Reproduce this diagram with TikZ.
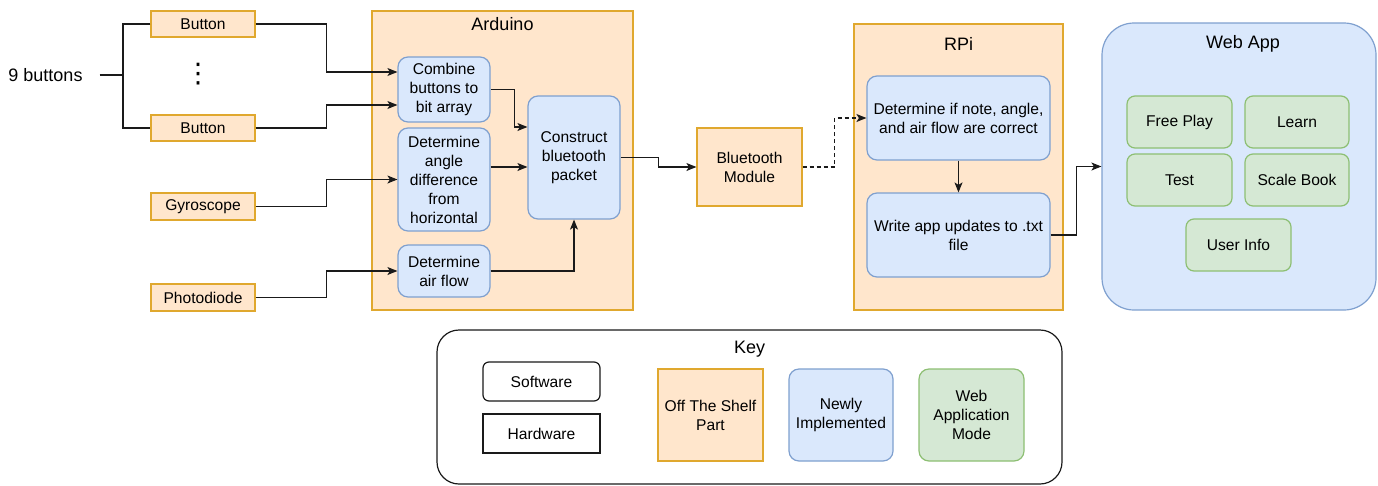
\documentclass[tikz,border=0pt]{standalone}
\usepackage{fontspec}
\setmainfont{Liberation Sans}
\newfontfamily\dejavu{DejaVu Sans}
\usetikzlibrary{arrows.meta,calc}
\definecolor{ofill}{HTML}{FFE6CC}
\definecolor{odraw}{HTML}{E0A82E}
\definecolor{bfill}{HTML}{DAE8FC}
\definecolor{bdraw}{HTML}{7FA0CF}
\definecolor{gfill}{HTML}{D5E8D4}
\definecolor{gdraw}{HTML}{8DBF73}
\definecolor{lcol}{HTML}{1A1A1A}
\tikzset{
  base/.style={font=\fontsize{15.6}{19}\selectfont, align=center, inner sep=0pt, line width=1.2pt},
  obox/.style={base, rectangle, fill=ofill, draw=odraw},
  bbox/.style={base, rectangle, rounded corners=10pt, fill=bfill, draw=bdraw},
  gbox/.style={base, rectangle, rounded corners=8pt, fill=gfill, draw=gdraw},
  wbox/.style={base, rectangle, rounded corners=6pt, fill=white, draw=lcol},
  title/.style={font=\fontsize{18}{21}\selectfont, inner sep=0pt},
  conn/.style={line width=1.2pt, draw=lcol},
  arr/.style={conn, -{Stealth[length=10pt,width=8pt,inset=2.5pt]}},
}
\begin{document}
\begin{tikzpicture}[x=1pt,y=-1pt]
\useasboundingbox (0,0) rectangle (1378,485);
% containers
\node[obox, minimum width=261, minimum height=299] (ard) at (502.5,160.5) {};
\node[title] (ardt) at (502.5,24) {Arduino};
\node[obox, minimum width=209, minimum height=286] (rpi) at (958.5,167) {};
\node[title] (rpit) at (958.5,44) {RPi};
\node[base, rectangle, rounded corners=32pt, fill=bfill, draw=bdraw, minimum width=274, minimum height=287] (web) at (1239,166.5) {};
\node[title] (webt) at (1243,44) {Web App};
% left inputs
\node[title, inner xsep=17pt] (nine) at (45.5,75) {9 buttons};
\node[obox, minimum width=104, minimum height=26] (b1) at (203,24) {Button};
\node[obox, minimum width=104, minimum height=26] (b2) at (203,128) {Button};
\node[font=\dejavu\fontsize{27}{30}\selectfont, inner sep=0pt] (dots) at (198,74) {⋮};
\node[obox, minimum width=104, minimum height=27] (gyro) at (203,206.5) {Gyroscope};
\node[obox, minimum width=104, minimum height=27] (photo) at (203,297.5) {Photodiode};
% arduino internals
\node[bbox, minimum width=92, minimum height=65] (comb) at (444,89.5) {Combine\\buttons to\\bit array};
\node[bbox, minimum width=92, minimum height=103] (ang) at (444,179.5) {Determine\\angle\\difference\\from\\horizontal};
\node[bbox, minimum width=92, minimum height=52] (air) at (444,271) {Determine\\air flow};
\node[bbox, minimum width=92, minimum height=123] (cons) at (574,157.5) {Construct\\bluetooth\\packet};
% bluetooth
\node[obox, minimum width=105, minimum height=78] (bt) at (749.5,167) {Bluetooth\\Module};
% rpi internals
\node[bbox, minimum width=183, minimum height=84] (det) at (958.5,118) {Determine if note, angle,\\and air flow are correct};
\node[bbox, minimum width=183, minimum height=84] (wr) at (958.5,235) {Write app updates to .txt\\file};
% web app internals
\node[gbox, minimum width=105, minimum height=52] (fp) at (1179.5,122) {Free Play};
\node[gbox, minimum width=104, minimum height=52] (le) at (1297,122) {Learn};
\node[gbox, minimum width=105, minimum height=52] (te) at (1179.5,180) {Test};
\node[gbox, minimum width=104, minimum height=52] (sb) at (1297,180) {Scale Book};
\node[gbox, minimum width=105, minimum height=52] (ui) at (1238.5,245) {User Info};
% key
\node[base, rectangle, rounded corners=22pt, fill=white, draw=lcol, minimum width=625, minimum height=154] (key) at (749.5,407) {};
\node[title] (keyt) at (749.5,349) {Key};
\node[wbox, minimum width=117, minimum height=39] (sw) at (541.5,381.5) {Software};
\node[base, rectangle, fill=white, draw=lcol, minimum width=117, minimum height=39] (hw) at (541.5,433.5) {Hardware};
\node[obox, minimum width=105, minimum height=92] (ots) at (710.5,415) {Off The Shelf\\Part};
\node[bbox, minimum width=104, minimum height=92] (ni) at (841,415) {Newly\\Implemented};
\node[gbox, rounded corners=10pt, minimum width=105, minimum height=92] (wam) at (971.5,415) {Web\\Application\\Mode};
% connectors
\coordinate (j) at (123,75);
\draw[conn] (nine.east) -- (j);
\draw[conn] (b1.west) -| (j) |- (b2.west);
\draw[arr] (b1.east) -- ++(71,0) |- ([yshift=17.5pt]comb.west);
\draw[arr] (b2.east) -- ++(71,0) |- ([yshift=-15.5pt]comb.west);
\draw[arr] (gyro.east) -- ++(71,0) |- (ang.west);
\draw[arr] (photo.east) -- ++(71,0) |- (air.west);
\draw[arr] (comb.east) -- ++(24,0) |- ([yshift=30.5pt]cons.west);
\coordinate (a1) at ([yshift=12.5pt]ang.east);
\draw[arr] (a1) -- (a1 -| cons.west);
\draw[arr] (air.east) -| (cons.south);
\draw[arr] (cons.east) -- ++(38,0) |- (bt.west);
\draw[arr, dash pattern=on 4pt off 3pt] (bt.east) -- ++(32,0) |- (det.west);
\draw[arr] (det.south) -- (wr.north);
\draw[arr] (wr.east) -- ++(26,0) |- (web.west);
\end{tikzpicture}
\end{document}
